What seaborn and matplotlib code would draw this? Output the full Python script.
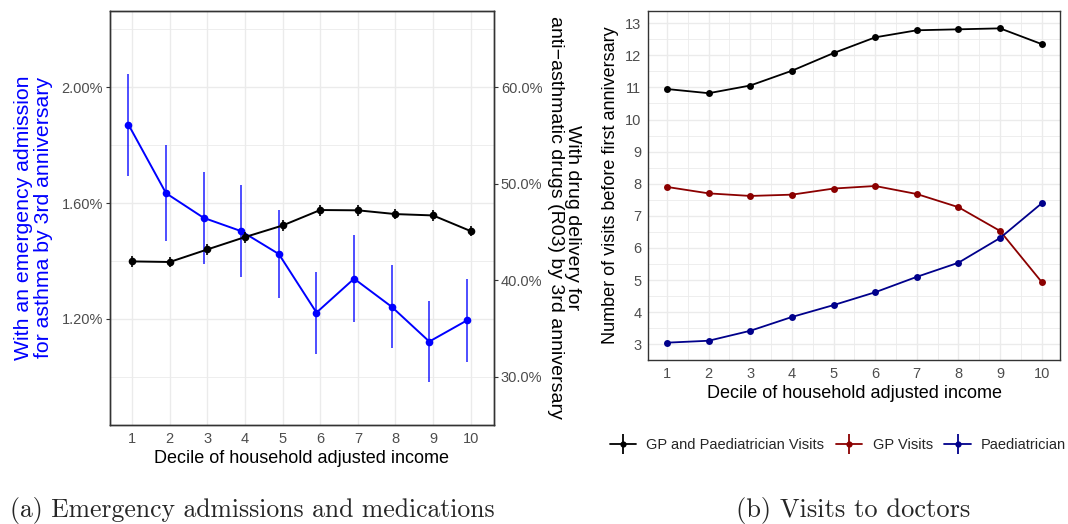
import numpy as np
import pandas as pd
import matplotlib
matplotlib.use("Agg")
import matplotlib.pyplot as plt
import seaborn as sns
from matplotlib.lines import Line2D
from matplotlib.ticker import FixedLocator, FuncFormatter, MultipleLocator
from matplotlib.legend_handler import HandlerTuple

# ---------------- data ----------------
deciles = [1, 2, 3, 4, 5, 6, 7, 8, 9, 10]

# panel (a): emergency admissions (%), left axis
emerg_pct = [1.871, 1.634, 1.549, 1.503, 1.424, 1.222, 1.339, 1.242, 1.122, 1.195]
emerg_lo = [1.695, 1.468, 1.391, 1.346, 1.271, 1.080, 1.188, 1.100, 0.981, 1.052]
emerg_hi = [2.046, 1.799, 1.707, 1.661, 1.577, 1.362, 1.491, 1.385, 1.262, 1.339]

# panel (a): drug delivery R03 (%), right axis
drug_pct = [41.96, 41.90, 43.20, 44.48, 45.68, 47.28, 47.25, 46.86, 46.72, 45.10]
drug_lo = [41.40, 41.35, 42.65, 43.90, 45.10, 46.70, 46.70, 46.30, 46.15, 44.55]
drug_hi = [42.50, 42.45, 43.75, 45.05, 46.25, 47.85, 47.80, 47.40, 47.30, 45.65]

# panel (b): visits before first anniversary
visits_gp_paed = [10.95, 10.82, 11.06, 11.52, 12.07, 12.56, 12.78, 12.81, 12.84, 12.35]
visits_gp = [7.90, 7.70, 7.62, 7.66, 7.85, 7.93, 7.68, 7.27, 6.53, 4.94]
visits_paed = [3.05, 3.11, 3.42, 3.85, 4.22, 4.62, 5.10, 5.54, 6.31, 7.39]
series_names = ["GP and Paediatrician Visits", "GP Visits", "Paediatrician"]

left_ticks = [1.2, 1.6, 2.0]
right_ticks = [30, 40, 50, 60]
visit_ticks = [3, 4, 5, 6, 7, 8, 9, 10, 11, 12, 13]

# ---------------- style ----------------
sns.set_theme(style="white")
plt.rcParams["font.family"] = ["Liberation Sans", "DejaVu Sans"]

GRID = "#EBEBEB"
TICKC = "#4D4D4D"
BORDER = "#333333"
BLUE = "#0000FF"
DARKRED = "#8B0000"
DARKBLUE = "#00008B"

fig = plt.figure(figsize=(10.68, 5.24), dpi=100)
W, H = 1068, 524


def frac(x0, y0, x1, y1):
    return [x0 / W, 1 - y1 / H, (x1 - x0) / W, (y1 - y0) / H]


def style_axes(ax):
    for s in ax.spines.values():
        s.set_color(BORDER)
        s.set_linewidth(1.0)
    ax.tick_params(axis="both", which="major", length=3, width=0.8, color=BORDER,
                   labelcolor=TICKC, labelsize=10.5, pad=2)
    ax.tick_params(axis="both", which="minor", length=0)


# ---------------- panel (a) ----------------
ax = fig.add_axes(frac(110, 10.7, 494, 425))
ax2 = ax.twinx()
style_axes(ax)
style_axes(ax2)

ax.set_xlim(0.41, 10.62)
ax.set_ylim(0.834, 2.264)
ax2.set_ylim(0.834 * 30, 2.264 * 30)

ax.xaxis.set_major_locator(FixedLocator(deciles))
ax.yaxis.set_major_locator(FixedLocator(left_ticks))
ax.yaxis.set_minor_locator(FixedLocator([1.0, 1.4, 1.8, 2.2]))
ax.yaxis.set_major_formatter(FuncFormatter(lambda v, p: f"{v:.2f}%"))
ax2.yaxis.set_major_locator(FixedLocator(right_ticks))
ax2.yaxis.set_major_formatter(FuncFormatter(lambda v, p: f"{v:.1f}%"))

ax.grid(True, which="major", color=GRID, linewidth=1.0)
ax.grid(True, which="minor", axis="y", color=GRID, linewidth=0.6)
ax.set_axisbelow(True)

dodge_a = -0.1
xa = [d + dodge_a for d in deciles]
df_a = pd.DataFrame({"x": xa, "y": emerg_pct})
ax.vlines(xa, emerg_lo, emerg_hi, color=BLUE, linewidth=1.3, alpha=0.75, zorder=2)
sns.lineplot(data=df_a, x="x", y="y", color=BLUE, linewidth=1.4, marker="o",
             markersize=5.5, markeredgewidth=0, ax=ax, zorder=3)

df_b = pd.DataFrame({"x": deciles, "y": drug_pct})
ax2.vlines(deciles, drug_lo, drug_hi, color="black", linewidth=1.2, zorder=2)
sns.lineplot(data=df_b, x="x", y="y", color="black", linewidth=1.4, marker="o",
             markersize=5.5, markeredgewidth=0, ax=ax2, zorder=3)

ax.set_xlabel("Decile of household adjusted income", fontsize=13, color="black", labelpad=3)
ax.set_ylabel("With an emergency admission\nfor asthma by 3rd anniversary", fontsize=15.3,
              color=BLUE, labelpad=6, linespacing=1.05)
ax2.set_ylabel("With drug delivery for\nanti\u2212asthmatic drugs (R03) by 3rd anniversary",
               fontsize=14, color="black", rotation=270, labelpad=28, linespacing=1.05)

# ---------------- panel (b) ----------------
bx = fig.add_axes(frac(648.3, 10.7, 1060, 360))
style_axes(bx)
bx.set_xlim(0.55, 10.44)
bx.set_ylim(2.51, 13.39)
bx.xaxis.set_major_locator(FixedLocator(deciles))
bx.xaxis.set_minor_locator(MultipleLocator(0.5))
bx.yaxis.set_major_locator(FixedLocator(visit_ticks))
bx.yaxis.set_minor_locator(MultipleLocator(0.5))
bx.grid(True, which="major", color=GRID, linewidth=1.0)
bx.grid(True, which="minor", color=GRID, linewidth=0.6)
bx.set_axisbelow(True)

df_v = pd.DataFrame({
    "decile": deciles * 3,
    "visits": visits_gp_paed + visits_gp + visits_paed,
    "series": [series_names[0]] * 10 + [series_names[1]] * 10 + [series_names[2]] * 10,
})
palette = {series_names[0]: "black", series_names[1]: DARKRED, series_names[2]: DARKBLUE}
sns.lineplot(data=df_v, x="decile", y="visits", hue="series", palette=palette,
             hue_order=series_names, linewidth=1.3, marker="o", markersize=5,
             markeredgewidth=0, ax=bx, legend=False)
bx.set_xlabel("Decile of household adjusted income", fontsize=13, color="black", labelpad=3)
bx.set_ylabel("Number of visits before first anniversary", fontsize=13, color="black", labelpad=4)

handles = []
for name in series_names:
    c = palette[name]
    h1 = Line2D([], [], color=c, linewidth=1.3, marker="o", markersize=4.5, markeredgewidth=0)
    h2 = Line2D([], [], color=c, linestyle="none", marker="|", markersize=15, markeredgewidth=1.3)
    handles.append((h1, h2))
fig.legend(handles, series_names, handler_map={tuple: HandlerTuple(ndivide=1)},
           loc="center", bbox_to_anchor=(838 / W, 1 - 445 / H), ncol=3, frameon=False,
           fontsize=10.5, handlelength=1.8, handletextpad=0.7, columnspacing=0.8)

# ---------------- captions ----------------
fig.text(252 / W, 1 - 510 / H, "(a) Emergency admissions and medications",
         fontfamily="cmr10", fontsize=18.5, ha="center", va="center")
fig.text(853 / W, 1 - 510 / H, "(b) Visits to doctors",
         fontfamily="cmr10", fontsize=19, ha="center", va="center")

fig.savefig("out.png", dpi=100)
